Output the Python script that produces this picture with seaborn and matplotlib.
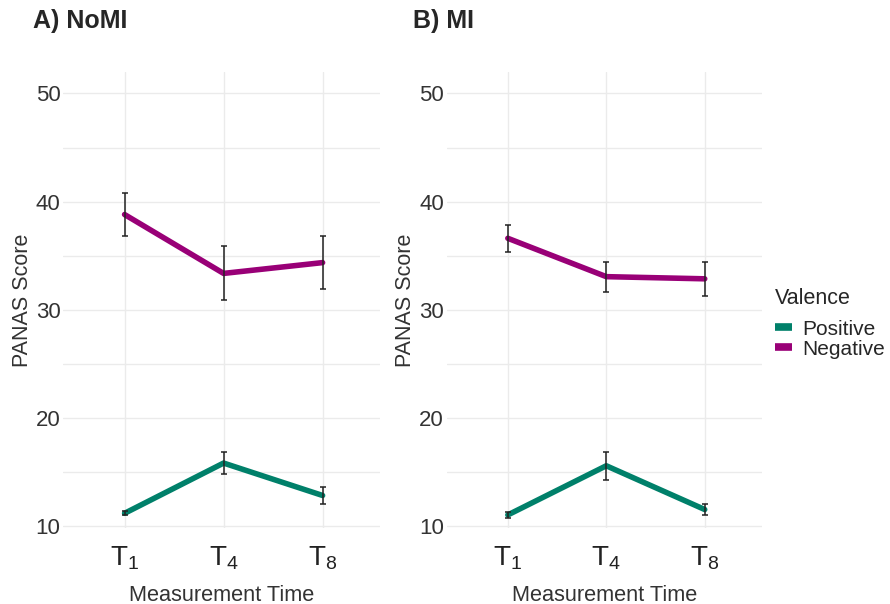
import numpy as np
import pandas as pd
import matplotlib
matplotlib.use('Agg')
import matplotlib.pyplot as plt
import seaborn as sns
from matplotlib.lines import Line2D

# Data
times = ['T$_1$', 'T$_4$', 'T$_8$']
valences = ['Positive', 'Negative']

nomi_pos = [11.15, 15.8, 12.8]
nomi_pos_err = [0.2, 1.0, 0.75]
nomi_neg = [38.8, 33.35, 34.35]
nomi_neg_err = [2.0, 2.5, 2.45]

mi_pos = [11.0, 15.55, 11.5]
mi_pos_err = [0.3, 1.3, 0.55]
mi_neg = [36.6, 33.05, 32.85]
mi_neg_err = [1.25, 1.4, 1.6]

palette = {'Positive': '#00806a', 'Negative': '#990077'}

sns.set_theme(style='white')
plt.rcParams['font.family'] = ['Liberation Sans', 'DejaVu Sans']
plt.rcParams['mathtext.fontset'] = 'custom'
plt.rcParams['mathtext.rm'] = 'Liberation Sans'
plt.rcParams['mathtext.it'] = 'Liberation Sans'

fig = plt.figure(figsize=(8.9, 6.04), dpi=100)
ax1 = fig.add_axes([0.071, 0.126, 0.356, 0.755])
ax2 = fig.add_axes([0.502, 0.126, 0.354, 0.755])

panels = [
    (ax1, nomi_pos, nomi_pos_err, nomi_neg, nomi_neg_err),
    (ax2, mi_pos, mi_pos_err, mi_neg, mi_neg_err),
]

for ax, pos, pos_err, neg, neg_err in panels:
    df = pd.DataFrame({
        'x': list(range(len(times))) * 2,
        'score': pos + neg,
        'err': pos_err + neg_err,
        'Valence': ['Positive'] * len(times) + ['Negative'] * len(times),
    })
    sns.lineplot(data=df, x='x', y='score', hue='Valence', hue_order=valences,
                 palette=palette, linewidth=4, legend=False, ax=ax, zorder=2,
                 solid_capstyle='round')
    ax.errorbar(df['x'], df['score'], yerr=df['err'], fmt='none', ecolor='#222222',
                elinewidth=1.1, capsize=2.2, capthick=1.1, zorder=3)

    ax.set_xlim(-0.62, 2.58)
    ax.set_ylim(9.8, 52)
    ax.set_xticks(range(len(times)))
    ax.set_xticklabels(times, fontsize=20, color='#222222')
    ax.set_yticks([10, 20, 30, 40, 50])
    ax.set_yticks([15, 25, 35, 45], minor=True)
    ax.tick_params(axis='y', labelsize=16, labelcolor='#333333', pad=2, length=0)
    ax.tick_params(axis='x', pad=12, length=0)
    ax.grid(True, which='major', color='#ebebeb', linewidth=1.0)
    ax.grid(True, which='minor', axis='y', color='#ebebeb', linewidth=1.0)
    ax.set_axisbelow(True)
    for s in ax.spines.values():
        s.set_visible(False)
    ax.set_xlabel('Measurement Time', fontsize=15.7, color='#333333', labelpad=9)
    ax.set_ylabel('PANAS Score', fontsize=15.5, color='#333333', labelpad=2)

fig.text(0.037, 0.966, 'A) NoMI', fontsize=18, fontweight='bold', va='center', ha='left')
fig.text(0.464, 0.966, 'B) MI', fontsize=18, fontweight='bold', va='center', ha='left')

handles = [Line2D([0], [0], color=palette[v], linewidth=5.5, solid_capstyle='butt')
           for v in valences]
leg = fig.legend(handles, valences, title='Valence', loc='upper left',
                 bbox_to_anchor=(0.871, 0.524), frameon=False, fontsize=15,
                 title_fontsize=15.5, handlelength=0.8, handletextpad=0.5,
                 labelspacing=0.05, borderaxespad=0, borderpad=0)
leg._legend_box.align = 'left'
leg._legend_box.sep = 8

fig.savefig('out.png', dpi=100)
